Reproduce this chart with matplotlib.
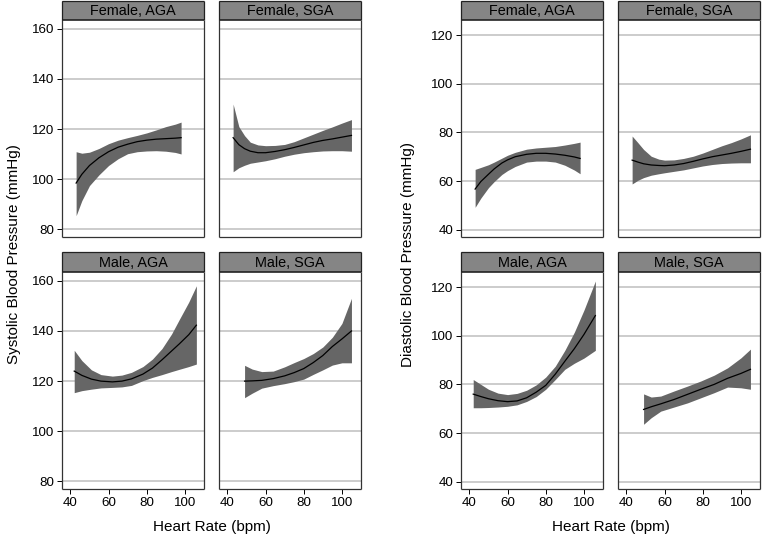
import matplotlib.pyplot as plt

plt.rcParams['font.family'] = ['Liberation Sans', 'DejaVu Sans']

# ---- systolic blood pressure, fitted line with confidence band ----
sbp_f_aga_hr = [43, 46, 50, 55, 60, 65, 70, 75, 80, 85, 90, 95, 98]
sbp_f_aga_fit = [98.5, 102, 105.5, 108.6, 111, 112.8, 114, 115, 115.6, 116, 116.2, 116.4, 116.6]
sbp_f_aga_hi = [111, 110.4, 110.8, 112.3, 114.2, 115.6, 116.6, 117.5, 118.5, 119.7, 121, 122, 122.8]
sbp_f_aga_lo = [85.5, 91.5, 97.5, 101.8, 105.5, 108.2, 110.2, 111, 111.3, 111.4, 111.2, 110.7, 110.1]

sbp_f_sga_hr = [43, 46, 49, 52, 56, 60, 65, 70, 75, 80, 85, 90, 95, 100, 105]
sbp_f_sga_fit = [116.6, 113.8, 112.2, 111.2, 110.6, 110.6, 111.1, 111.8, 112.7, 113.7, 114.7, 115.5, 116.1, 116.8, 117.5]
sbp_f_sga_hi = [130, 121, 117.4, 114.8, 113.7, 113.4, 113.5, 113.9, 115, 116.5, 118, 119.5, 120.9, 122.4, 123.8]
sbp_f_sga_lo = [103, 104.6, 105.6, 106.4, 106.9, 107.4, 108.2, 109.2, 110, 110.6, 111, 111.3, 111.4, 111.4, 111.2]

sbp_m_aga_hr = [42, 46, 51, 56, 62, 67, 72, 78, 83, 88, 93, 97, 102, 106]
sbp_m_aga_fit = [124, 122.3, 120.8, 120, 119.7, 120, 120.9, 122.8, 125.2, 128.5, 132, 134.8, 138.5, 142.3]
sbp_m_aga_hi = [132.3, 128.2, 124.5, 122.6, 122, 122.4, 123.5, 125.8, 128.8, 133, 138.8, 144.5, 151.5, 158]
sbp_m_aga_lo = [115.4, 116.2, 116.8, 117.3, 117.5, 117.7, 118.3, 120.2, 121.5, 122.6, 123.8, 124.7, 125.8, 126.8]

sbp_m_sga_hr = [49, 53, 58, 64, 70, 75, 80, 85, 90, 95, 100, 105]
sbp_m_sga_fit = [120, 120.1, 120.3, 121, 122.1, 123.4, 125, 127.4, 130.2, 133.8, 136.8, 140]
sbp_m_sga_hi = [126.3, 124.8, 123.8, 124, 125.7, 127.4, 129, 131, 133.6, 137.5, 143, 153]
sbp_m_sga_lo = [113.4, 115.2, 117.2, 118.2, 119, 119.8, 120.8, 122.7, 124.5, 126.4, 127.3, 127.3]

# ---- diastolic blood pressure ----
dbp_f_aga_hr = [43, 46, 50, 53, 57, 60, 64, 70, 75, 80, 85, 90, 95, 98]
dbp_f_aga_fit = [56.7, 59.8, 62.8, 65, 67.4, 68.7, 70, 71, 71.4, 71.4, 71.1, 70.6, 69.9, 69.3]
dbp_f_aga_hi = [64.8, 65.6, 66.7, 67.8, 69.4, 70.6, 71.8, 73.1, 73.6, 73.9, 74.2, 74.8, 75.5, 76]
dbp_f_aga_lo = [49.2, 53, 57.3, 59.8, 62.7, 64.3, 66, 67.8, 68.2, 68.2, 67.8, 66.5, 64.5, 63]

dbp_f_sga_hr = [43, 46, 49, 53, 57, 60, 65, 70, 75, 80, 85, 90, 95, 100, 105]
dbp_f_sga_fit = [68.6, 67.8, 67.1, 66.6, 66.4, 66.3, 66.6, 67.2, 68.1, 69.1, 70, 70.7, 71.4, 72.2, 73.1]
dbp_f_sga_hi = [78.5, 75.8, 73, 70.2, 69, 68.6, 68.7, 69.3, 70.2, 71.5, 73, 74.5, 75.8, 77.3, 79]
dbp_f_sga_lo = [58.8, 60.3, 61.4, 62.4, 63, 63.4, 64, 64.6, 65.4, 66.2, 66.8, 67.2, 67.4, 67.5, 67.5]

dbp_m_aga_hr = [42, 46, 50, 55, 60, 65, 70, 75, 80, 85, 90, 95, 100, 106]
dbp_m_aga_fit = [76, 75, 74.1, 73.3, 72.9, 73.2, 74.5, 76.8, 79.6, 84.2, 89.5, 94.7, 100.5, 108.3]
dbp_m_aga_hi = [82, 80, 78, 76.4, 75.8, 76.3, 77.6, 79.8, 83, 87.5, 94, 101.5, 110.5, 122.5]
dbp_m_aga_lo = [70.4, 70.4, 70.5, 70.7, 71, 71.6, 73, 75, 78, 82, 86.2, 88.7, 90.8, 94]

dbp_m_sga_hr = [49, 53, 58, 65, 72, 79, 86, 93, 100, 105]
dbp_m_sga_fit = [69.7, 70.8, 72, 73.8, 75.9, 78, 80, 82.5, 84.5, 86.2]
dbp_m_sga_hi = [76.1, 74.8, 75.2, 77.3, 79.3, 81.4, 83.8, 86.8, 90.9, 94.5]
dbp_m_sga_lo = [63.6, 66.3, 69, 70.7, 72.4, 74.5, 76.6, 78.9, 78.6, 78]

panel_titles = ['Female, AGA', 'Female, SGA', 'Male, AGA', 'Male, SGA']
sbp_ticks = [80, 100, 120, 140, 160]
dbp_ticks = [40, 60, 80, 100, 120]
hr_ticks = [40, 60, 80, 100]

sbp_panels = [
    (sbp_f_aga_hr, sbp_f_aga_fit, sbp_f_aga_lo, sbp_f_aga_hi),
    (sbp_f_sga_hr, sbp_f_sga_fit, sbp_f_sga_lo, sbp_f_sga_hi),
    (sbp_m_aga_hr, sbp_m_aga_fit, sbp_m_aga_lo, sbp_m_aga_hi),
    (sbp_m_sga_hr, sbp_m_sga_fit, sbp_m_sga_lo, sbp_m_sga_hi),
]
dbp_panels = [
    (dbp_f_aga_hr, dbp_f_aga_fit, dbp_f_aga_lo, dbp_f_aga_hi),
    (dbp_f_sga_hr, dbp_f_sga_fit, dbp_f_sga_lo, dbp_f_sga_hi),
    (dbp_m_aga_hr, dbp_m_aga_fit, dbp_m_aga_lo, dbp_m_aga_hi),
    (dbp_m_sga_hr, dbp_m_sga_fit, dbp_m_sga_lo, dbp_m_sga_hi),
]

W, H = 762, 537
fig = plt.figure(figsize=(W / 100, H / 100), dpi=100)

BAND = '#666666'
STRIP = '#858585'
GRID = '#c4c4c4'


def px_axes(x0, y0, x1, y1):
    # pixel box (top-left origin) -> figure axes
    return fig.add_axes([x0 / W, 1 - y1 / H, (x1 - x0) / W, (y1 - y0) / H])


def draw_group(panels, cols, ylim, yticks, ylabel, label_x):
    rows = [((1, 20), (20, 237)), ((252, 272), (272, 489))]
    for i, (hr, fit, lo, hi) in enumerate(panels):
        r, c = divmod(i, 2)
        (s0, s1), (p0, p1) = rows[r]
        x0, x1 = cols[c]

        ax = px_axes(x0, p0, x1, p1)
        ax.set_xlim(35.6, 110)
        ax.set_ylim(*ylim)
        for yv in yticks:
            ax.axhline(yv, color=GRID, lw=1.2, zorder=0)
        ax.fill_between(hr, lo, hi, color=BAND, lw=0, zorder=2)
        ax.plot(hr, fit, color='black', lw=0.9, zorder=3)
        for sp in ax.spines.values():
            sp.set_color('#333333')
            sp.set_linewidth(0.9)
            sp.set_capstyle('butt')
        ax.spines['top'].set_visible(False)

        ax.set_yticks(yticks)
        ax.set_xticks(hr_ticks)
        ax.tick_params(direction='out', length=3.5, width=0.7, labelsize=9.6, pad=2)
        if c == 1:
            ax.tick_params(axis='y', left=False, labelleft=False)
        if r == 0:
            ax.tick_params(axis='x', bottom=False, labelbottom=False)

        # strip header
        sax = px_axes(x0, s0, x1, s1)
        sax.set_facecolor(STRIP)
        sax.set_xticks([])
        sax.set_yticks([])
        for sp in sax.spines.values():
            sp.set_color('#222222')
            sp.set_linewidth(0.9)
            sp.set_capstyle('butt')
        sax.spines['bottom'].set_linewidth(1.2)
        sax.text(0.5, 0.47, panel_titles[i], ha='center', va='center',
                 fontsize=10.4, color='black', transform=sax.transAxes)

    fig.text(label_x / W, 1 - 254 / H, ylabel, rotation=90, ha='center', va='center',
             fontsize=11)
    fig.text((cols[0][0] + cols[1][1]) / 2 / W, 1 - 527 / H, 'Heart Rate (bpm)',
             ha='center', va='center', fontsize=11)


draw_group(sbp_panels, [(62, 204), (219, 361)], (77, 163.5), sbp_ticks,
           'Systolic Blood Pressure (mmHg)', 14)
draw_group(dbp_panels, [(461, 603), (618, 760)], (37, 126.2), dbp_ticks,
           'Diastolic Blood Pressure (mmHg)', 408)

fig.savefig('out.png', dpi=100, facecolor='white')
